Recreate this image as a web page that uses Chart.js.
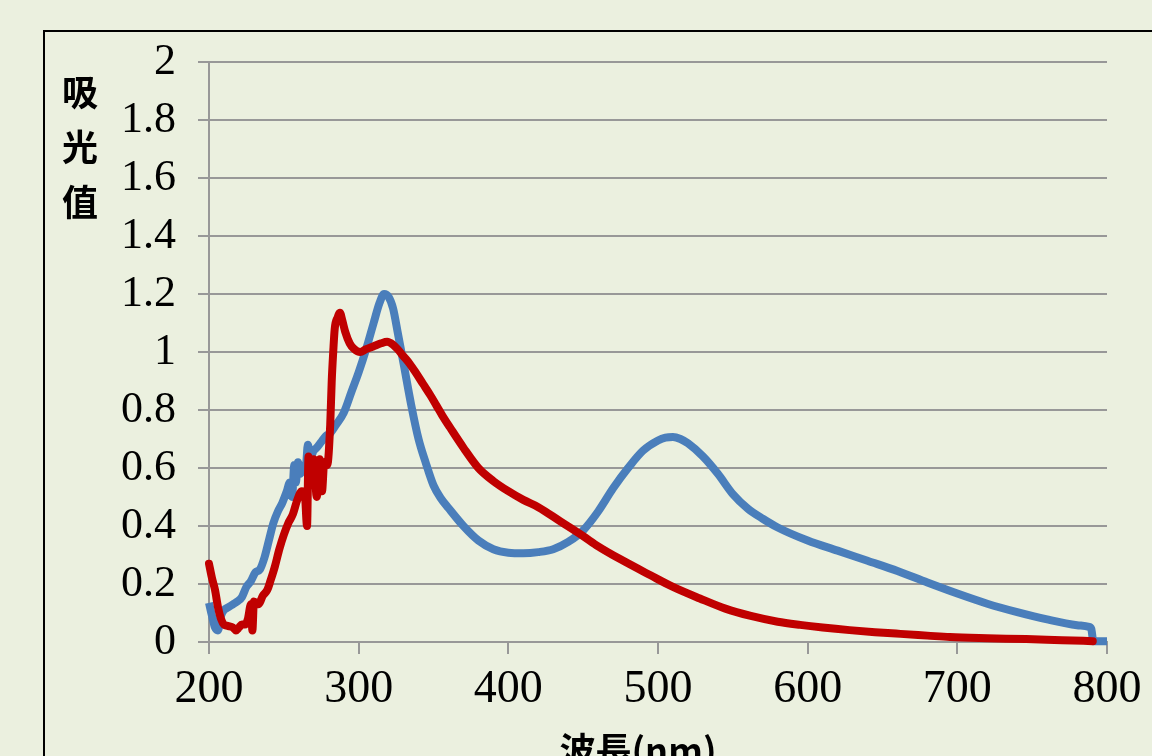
<!DOCTYPE html>
<html>
<head>
<meta charset="utf-8">
<script src="https://cdn.jsdelivr.net/npm/chart.js@4"></script>
<style>
html,body{margin:0;padding:0;background:#EBF0DF;}
canvas{display:block;}
</style>
</head>
<body>
<canvas id="c" width="1152" height="756"></canvas>
<script>
// ---- data ----
const xTickValues = [200, 300, 400, 500, 600, 700, 800];
const yTickLabels = ["0", "0.2", "0.4", "0.6", "0.8", "1", "1.2", "1.4", "1.6", "1.8", "2"];
const yAxisTitle = ["吸", "光", "值"];
const xAxisTitle = "波長(nm)";

const blueWavelength = [200,202,204,206,208,210,213,216,219,222,225,228,231,234,237,240,243,246,249,252,254,255.5,257,258,259.5,261,263,265,266,268,270,272,275,278,281,285,290,295,300,305,310,314,317,320,323,326,330,335,340,345,350,355,360,370,380,390,400,410,420,430,440,450,460,470,480,490,500,505,510,515,520,530,540,550,560,570,580,600,620,640,660,680,700,720,740,760,780,788,789.5,790.5,791,800];
const blueAbsorbance = [0.135,0.09,0.05,0.04,0.09,0.11,0.12,0.13,0.14,0.155,0.19,0.21,0.24,0.25,0.29,0.35,0.41,0.45,0.48,0.52,0.55,0.50,0.61,0.55,0.62,0.58,0.60,0.62,0.68,0.64,0.66,0.67,0.69,0.71,0.72,0.75,0.79,0.86,0.93,1.01,1.10,1.17,1.20,1.19,1.15,1.07,0.96,0.82,0.70,0.615,0.54,0.495,0.462,0.40,0.35,0.32,0.308,0.306,0.31,0.32,0.345,0.385,0.45,0.53,0.60,0.66,0.695,0.705,0.707,0.70,0.685,0.64,0.58,0.51,0.46,0.425,0.395,0.35,0.315,0.28,0.245,0.205,0.167,0.132,0.103,0.078,0.058,0.052,0.045,0.01,0.003,0.003];

const redWavelength = [200,202,204,206,208,210,213,216,218,220,222,224,226,228,229,230,233,236,239,241,244,247,250,253,256,259,262,264,265.5,266.5,268,270,272,274,275.5,277,279,281,282,283,284,286,287.5,289,291,294,297,301,305,310,315,319,323,326,330,334,338,343,348,352,356,361,370,380,390,400,410,420,435,450,460,475,495,510,528,545,562,580,595,610,628,645,662,680,695,720,746,770,790.5];
const redAbsorbance = [0.27,0.22,0.18,0.12,0.08,0.06,0.055,0.05,0.04,0.05,0.06,0.06,0.08,0.13,0.04,0.14,0.13,0.16,0.18,0.21,0.26,0.32,0.37,0.41,0.44,0.49,0.52,0.51,0.40,0.64,0.60,0.63,0.50,0.63,0.52,0.62,0.61,0.75,0.90,1.00,1.08,1.12,1.135,1.11,1.07,1.03,1.01,1.00,1.01,1.02,1.03,1.035,1.025,1.01,0.985,0.96,0.93,0.89,0.85,0.815,0.78,0.74,0.67,0.60,0.555,0.52,0.49,0.465,0.415,0.365,0.33,0.285,0.23,0.19,0.15,0.115,0.09,0.07,0.059,0.05,0.041,0.034,0.028,0.022,0.017,0.013,0.01,0.006,0.003];

const toPoints = (xs, ys) => xs.map((x, i) => ({x: x, y: ys[i]}));

const BG = '#EBF0DF';
const GRID = '#989898';

const decorPlugin = {
  id: 'decor',
  beforeDraw(chart) {
    const ctx = chart.ctx;
    ctx.save();
    ctx.fillStyle = BG;
    ctx.fillRect(0, 0, chart.width, chart.height);
    ctx.strokeStyle = '#000';
    ctx.lineWidth = 2;
    ctx.strokeRect(44, 31, 1300, 1000);
    ctx.restore();
  },
  afterDraw(chart) {
    const ctx = chart.ctx;
    ctx.save();
    ctx.fillStyle = '#000';
    ctx.textAlign = 'center';
    ctx.textBaseline = 'middle';
    ctx.font = 'bold 36px "Noto Sans CJK TC"';
    const ys = [92, 147, 202];
    yAxisTitle.forEach((ch, i) => ctx.fillText(ch, 80, ys[i]));
    ctx.font = 'bold 36px "Noto Sans CJK TC"';
    ctx.fillText(xAxisTitle, 638, 750);
    ctx.restore();
  }
};

new Chart(document.getElementById('c'), {
  type: 'line',
  data: {
    datasets: [
      {
        label: 'red',
        data: toPoints(redWavelength, redAbsorbance),
        borderColor: '#C00000',
        borderWidth: 8,
        pointRadius: 0,
        fill: false,
        cubicInterpolationMode: 'monotone',
        borderJoinStyle: 'round',
        borderCapStyle: 'round',
        clip: 12
      },
      {
        label: 'blue',
        data: toPoints(blueWavelength, blueAbsorbance),
        borderColor: '#4A7EBB',
        borderWidth: 8,
        pointRadius: 0,
        fill: false,
        cubicInterpolationMode: 'monotone',
        borderJoinStyle: 'round',
        borderCapStyle: 'butt',
        clip: 12
      }
    ]
  },
  options: {
    responsive: false,
    animation: false,
    devicePixelRatio: 1,
    layout: { padding: { top: 62, right: 45, left: 0, bottom: 0 } },
    plugins: { legend: { display: false }, tooltip: { enabled: false } },
    scales: {
      x: {
        type: 'linear',
        min: 200,
        max: 800,
        afterBuildTicks(scale) {
          scale.ticks = xTickValues.map(v => ({value: v}));
        },
        afterFit(scale) { scale.height = 114; },
        grid: {
          drawOnChartArea: false,
          drawTicks: true,
          tickLength: 12,
          color: GRID,
          lineWidth: 2
        },
        border: { display: true, color: GRID, width: 2 },
        ticks: {
          color: '#000',
          font: { family: '"Liberation Serif"', size: 46 },
          padding: 8,
          maxRotation: 0,
          autoSkip: false,
          callback: (v) => String(v)
        }
      },
      y: {
        type: 'linear',
        min: 0,
        max: 2,
        afterBuildTicks(scale) {
          scale.ticks = yTickLabels.map(s => ({value: parseFloat(s)}));
        },
        afterFit(scale) { scale.width = 209; },
        grid: {
          drawOnChartArea: true,
          drawTicks: true,
          tickLength: 11,
          color: GRID,
          lineWidth: 2
        },
        border: { display: true, color: GRID, width: 2 },
        ticks: {
          color: '#000',
          font: { family: '"Liberation Serif"', size: 44 },
          padding: 22,
          autoSkip: false,
          callback: (v, i) => yTickLabels[i]
        }
      }
    }
  },
  plugins: [decorPlugin]
});
</script>
</body>
</html>
